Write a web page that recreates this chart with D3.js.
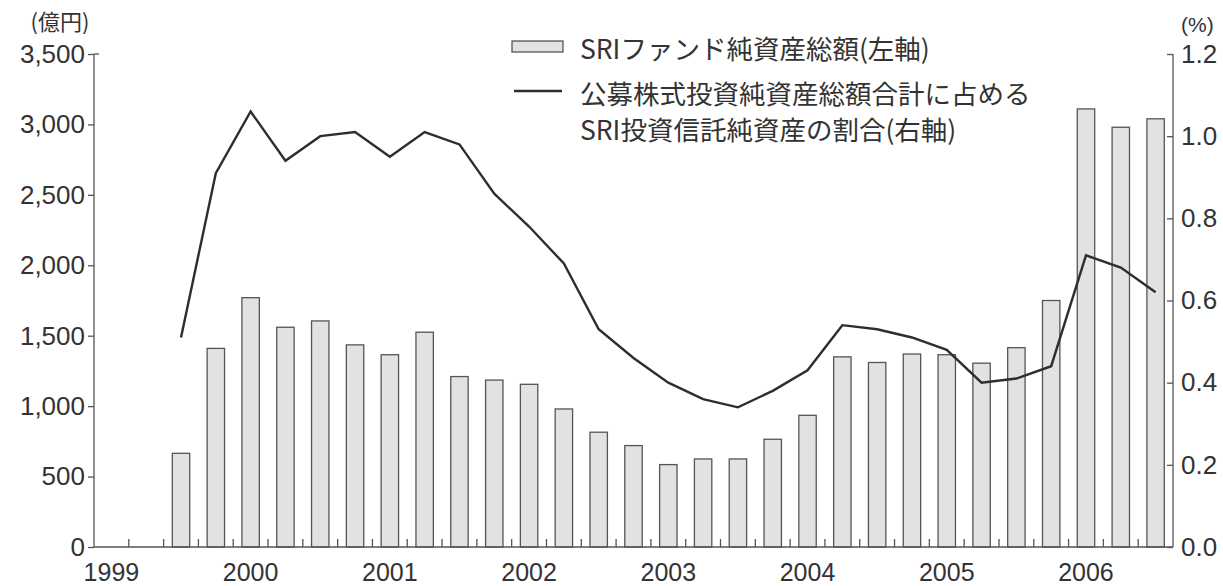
<!DOCTYPE html>
<html>
<head>
<meta charset="utf-8">
<script src="https://cdn.jsdelivr.net/npm/d3@7"></script>
<style>
  body { margin: 0; background: #ffffff; }
  svg { display: block; }
</style>
</head>
<body>
<svg id="chart" width="1223" height="586"></svg>
<script>
// ---- data ----
// quarterly slots (end of month), 1999/3 ... 2006/9
const periods = [
  "1999/3","1999/6","1999/9","1999/12",
  "2000/3","2000/6","2000/9","2000/12",
  "2001/3","2001/6","2001/9","2001/12",
  "2002/3","2002/6","2002/9","2002/12",
  "2003/3","2003/6","2003/9","2003/12",
  "2004/3","2004/6","2004/9","2004/12",
  "2005/3","2005/6","2005/9","2005/12",
  "2006/3","2006/6","2006/9"
];
// periods that carry data (1999/9 onward)
const dataPeriods = periods.slice(2);
// SRI fund net assets (億円, left axis)
const fundAssets = [
  665, 1410, 1770, 1560, 1605, 1435, 1365, 1525,
  1210, 1185, 1155, 980, 815, 720, 585, 625,
  625, 765, 935, 1350, 1310, 1370, 1365, 1305,
  1415, 1750, 3110, 2980, 3040
];
// share of SRI funds in public equity fund net assets (%, right axis)
const sriShare = [
  0.51, 0.91, 1.06, 0.94, 1.00, 1.01, 0.95, 1.01,
  0.98, 0.86, 0.78, 0.69, 0.53, 0.46, 0.40, 0.36,
  0.34, 0.38, 0.43, 0.54, 0.53, 0.51, 0.48, 0.40,
  0.41, 0.44, 0.71, 0.68, 0.62
];
const yearLabels = ["1999","2000","2001","2002","2003","2004","2005","2006"];
const leftTicks = [0, 500, 1000, 1500, 2000, 2500, 3000, 3500];
const rightTicks = [0, 0.2, 0.4, 0.6, 0.8, 1.0, 1.2];
const legendBarText = "SRIファンド純資産総額(左軸)";
const legendLineText = ["公募株式投資純資産総額合計に占める", "SRI投資信託純資産の割合(右軸)"];
const leftUnit = "(億円)";
const rightUnit = "(%)";

// ---- layout ----
const L = 94, R = 1173, T = 54, B = 547;
const numFont = "'Liberation Sans', Arial, sans-serif";
const jpFont = "'Noto Sans CJK JP', 'Noto Sans', sans-serif";
const ink = "#333";
const axisInk = "#555";

const svg = d3.select("#chart");

const x = d3.scaleBand().domain(periods).range([L, R]).paddingInner(0.5).paddingOuter(0.25);
const yL = d3.scaleLinear().domain([0, 3500]).range([B, T]);
const yR = d3.scaleLinear().domain([0, 1.2]).range([B, T]);
const bw = x.bandwidth();
const step = x.step();

// bars
svg.append("g").selectAll("rect")
  .data(fundAssets)
  .join("rect")
  .attr("x", (d, i) => x(dataPeriods[i]))
  .attr("y", d => yL(d))
  .attr("width", bw)
  .attr("height", d => B - yL(d))
  .attr("fill", "#e2e2e2")
  .attr("stroke", "#555")
  .attr("stroke-width", 1.3);

// line
const line = d3.line()
  .x((d, i) => x(dataPeriods[i]) + bw / 2)
  .y(d => yR(d));
svg.append("path")
  .datum(sriShare)
  .attr("d", line)
  .attr("fill", "none")
  .attr("stroke", "#2e2e2e")
  .attr("stroke-width", 2.4)
  .attr("stroke-linejoin", "miter");

// left axis
const gL = svg.append("g").attr("transform", `translate(${L},0)`)
  .call(d3.axisLeft(yL).tickValues(leftTicks).tickSizeInner(6).tickSizeOuter(0).tickPadding(3)
    .tickFormat(d3.format(",")));
gL.select(".domain").remove();
gL.selectAll(".tick line").attr("stroke", axisInk).attr("stroke-width", 1.3);
gL.selectAll(".tick text").attr("fill", ink).style("font-family", numFont).style("font-size", "26px");
gL.append("line").attr("x1", 0).attr("x2", 0).attr("y1", yL(0)).attr("y2", yL(3500))
  .attr("stroke", axisInk).attr("stroke-width", 1.3);
gL.append("line").attr("x1", 0).attr("x2", 5).attr("y1", yL(3500)).attr("y2", yL(3500))
  .attr("stroke", axisInk).attr("stroke-width", 1.3);

// right axis
const gR = svg.append("g").attr("transform", `translate(${R},0)`)
  .call(d3.axisRight(yR).tickValues(rightTicks).tickSizeInner(-6).tickSizeOuter(0).tickPadding(8)
    .tickFormat(d3.format(".1f")));
gR.select(".domain").remove();
gR.selectAll(".tick line").attr("stroke", axisInk).attr("stroke-width", 1.3);
gR.selectAll(".tick text").attr("fill", ink).style("font-family", numFont).style("font-size", "26px");
gR.append("line").attr("x1", 0).attr("x2", 0).attr("y1", yR(0)).attr("y2", yR(1.2))
  .attr("stroke", axisInk).attr("stroke-width", 1.3);

// bottom axis: baseline, slot boundary ticks, year labels
svg.append("line").attr("x1", L).attr("x2", R).attr("y1", B).attr("y2", B)
  .attr("stroke", axisInk).attr("stroke-width", 1.3);
svg.append("g").selectAll("line")
  .data(periods.slice(1))
  .join("line")
  .attr("x1", d => x(d) - step * 0.25)
  .attr("x2", d => x(d) - step * 0.25)
  .attr("y1", B)
  .attr("y2", B - 8)
  .attr("stroke", axisInk)
  .attr("stroke-width", 1.3);
svg.append("g").selectAll("text")
  .data(yearLabels)
  .join("text")
  .attr("x", d => x(d + "/3") + bw / 2)
  .attr("y", 581)
  .attr("text-anchor", "middle")
  .attr("fill", ink)
  .style("font-family", numFont)
  .style("font-size", "25px")
  .text(d => d);

// unit labels
svg.append("text").attr("x", 60).attr("y", 30).attr("text-anchor", "middle")
  .attr("fill", ink).style("font-family", jpFont).style("font-size", "22px").text(leftUnit);
svg.append("text").attr("x", 1181).attr("y", 32).attr("text-anchor", "start")
  .attr("fill", ink).style("font-family", numFont).style("font-size", "21px").text(rightUnit);

// legend
const lg = svg.append("g");
lg.append("rect").attr("x", 512).attr("y", 41).attr("width", 51).attr("height", 11)
  .attr("fill", "#e2e2e2").attr("stroke", "#555").attr("stroke-width", 1.3);
lg.append("text").attr("x", 580).attr("y", 47).attr("dominant-baseline", "central")
  .attr("fill", ink).style("font-family", jpFont).style("font-size", "26.5px").text(legendBarText);
lg.append("line").attr("x1", 514).attr("x2", 562).attr("y1", 91).attr("y2", 91)
  .attr("stroke", "#2e2e2e").attr("stroke-width", 2.4);
lg.append("text").attr("x", 580).attr("y", 92).attr("dominant-baseline", "central")
  .attr("fill", ink).style("font-family", jpFont).style("font-size", "26.5px").text(legendLineText[0]);
lg.append("text").attr("x", 580).attr("y", 128).attr("dominant-baseline", "central")
  .attr("fill", ink).style("font-family", jpFont).style("font-size", "26.5px").text(legendLineText[1]);
</script>
</body>
</html>
